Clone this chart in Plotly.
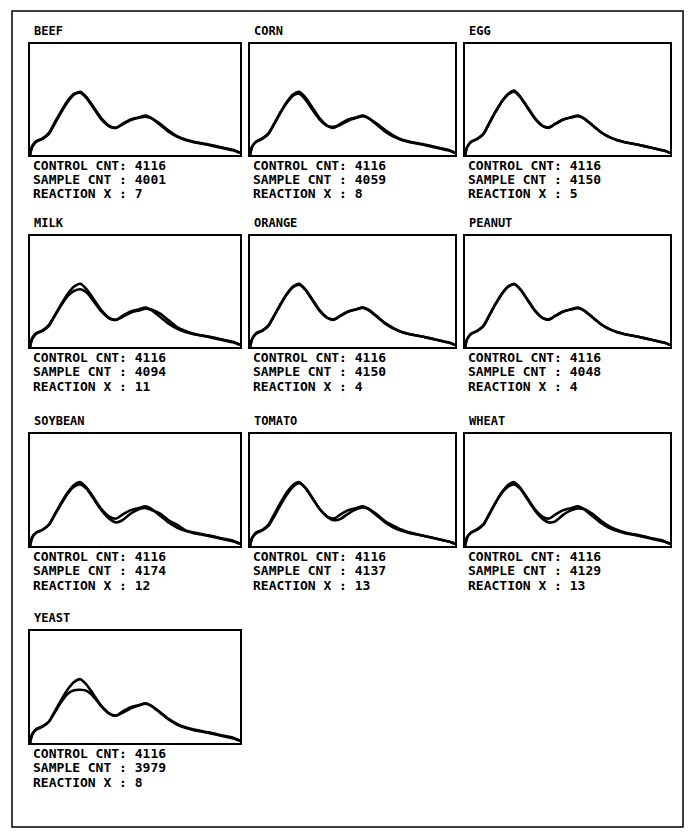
import plotly.graph_objects as go

# page is 696x839 but the HTML body has an 8px margin
OFF = 8
W, H = 696 - OFF, 839 - OFF

# ---------------- data ----------------
names = ["BEEF", "CORN", "EGG", "MILK", "ORANGE", "PEANUT", "SOYBEAN", "TOMATO", "WHEAT", "YEAST"]
control_cnt = [4116] * 10
sample_cnt = [4001, 4059, 4150, 4094, 4150, 4048, 4174, 4137, 4129, 3979]
reaction_pct = [7, 8, 5, 11, 4, 4, 12, 13, 13, 8]

channel = [0, 1, 3, 6, 9, 12, 15, 18, 21, 24, 27, 30, 34, 38, 41, 44, 48, 52, 55, 58, 62, 66, 70, 74, 78, 85, 91, 97, 100]

control_curve = [0.00, 0.07, 0.12, 0.145, 0.19, 0.29, 0.39, 0.48, 0.545, 0.57, 0.52, 0.44, 0.33, 0.26, 0.245, 0.28, 0.32, 0.34, 0.355, 0.33, 0.27, 0.21, 0.165, 0.135, 0.115, 0.09, 0.065, 0.04, 0.02]

sample_beef = [0.00, 0.08, 0.125, 0.15, 0.20, 0.30, 0.40, 0.49, 0.55, 0.56, 0.51, 0.43, 0.32, 0.255, 0.245, 0.275, 0.315, 0.335, 0.345, 0.33, 0.28, 0.22, 0.17, 0.14, 0.12, 0.095, 0.07, 0.045, 0.02]
sample_corn = [0.00, 0.075, 0.12, 0.15, 0.195, 0.285, 0.385, 0.47, 0.535, 0.555, 0.50, 0.42, 0.32, 0.26, 0.255, 0.27, 0.31, 0.335, 0.35, 0.33, 0.28, 0.225, 0.175, 0.14, 0.12, 0.095, 0.07, 0.045, 0.02]
sample_egg = [0.00, 0.07, 0.12, 0.145, 0.19, 0.295, 0.395, 0.485, 0.55, 0.58, 0.525, 0.445, 0.335, 0.26, 0.25, 0.28, 0.32, 0.34, 0.35, 0.33, 0.27, 0.21, 0.165, 0.135, 0.115, 0.09, 0.065, 0.04, 0.02]
sample_milk = [0.00, 0.08, 0.125, 0.15, 0.20, 0.29, 0.38, 0.46, 0.505, 0.52, 0.49, 0.42, 0.32, 0.255, 0.245, 0.27, 0.31, 0.33, 0.345, 0.335, 0.30, 0.24, 0.18, 0.145, 0.12, 0.095, 0.07, 0.045, 0.02]
sample_orange = [0.00, 0.07, 0.125, 0.15, 0.195, 0.29, 0.385, 0.475, 0.54, 0.56, 0.515, 0.435, 0.325, 0.26, 0.25, 0.28, 0.32, 0.34, 0.355, 0.335, 0.275, 0.215, 0.17, 0.135, 0.115, 0.09, 0.065, 0.04, 0.02]
sample_peanut = [0.00, 0.07, 0.12, 0.145, 0.19, 0.29, 0.39, 0.48, 0.54, 0.565, 0.52, 0.44, 0.33, 0.26, 0.25, 0.28, 0.32, 0.34, 0.35, 0.33, 0.27, 0.21, 0.165, 0.135, 0.115, 0.09, 0.065, 0.04, 0.02]
sample_soybean = [0.00, 0.08, 0.12, 0.145, 0.19, 0.285, 0.38, 0.47, 0.53, 0.55, 0.51, 0.43, 0.32, 0.24, 0.21, 0.23, 0.29, 0.33, 0.34, 0.32, 0.29, 0.23, 0.19, 0.14, 0.12, 0.095, 0.07, 0.045, 0.02]
sample_tomato = [0.00, 0.07, 0.115, 0.14, 0.18, 0.27, 0.37, 0.46, 0.53, 0.56, 0.52, 0.44, 0.33, 0.255, 0.23, 0.24, 0.29, 0.33, 0.345, 0.33, 0.28, 0.22, 0.18, 0.145, 0.12, 0.09, 0.065, 0.04, 0.02]
sample_wheat = [0.00, 0.08, 0.12, 0.15, 0.195, 0.29, 0.39, 0.475, 0.53, 0.55, 0.51, 0.43, 0.32, 0.24, 0.21, 0.22, 0.28, 0.32, 0.335, 0.33, 0.29, 0.23, 0.18, 0.145, 0.12, 0.095, 0.07, 0.045, 0.02]
sample_yeast = [0.00, 0.08, 0.125, 0.15, 0.19, 0.28, 0.37, 0.44, 0.47, 0.475, 0.465, 0.42, 0.33, 0.26, 0.245, 0.27, 0.31, 0.335, 0.35, 0.33, 0.275, 0.215, 0.17, 0.14, 0.12, 0.095, 0.07, 0.045, 0.02]

sample_curves = [sample_beef, sample_corn, sample_egg, sample_milk, sample_orange,
                 sample_peanut, sample_soybean, sample_tomato, sample_wheat, sample_yeast]

# ---------------- layout (page pixels) ----------------
col_left = [30, 250, 465]
col_right = [240, 455, 670]
row_top = [44, 236, 434, 631]
row_bottom = [155, 347, 546, 743]

FONT = "DejaVu Sans Mono"


def px(xp):
    return (xp - OFF) / W


def py(yp):
    return 1 - (yp - OFF) / H


fig = go.Figure()
layout = dict(
    width=W, height=H,
    margin=dict(l=0, r=0, t=0, b=0),
    paper_bgcolor="white", plot_bgcolor="white",
    showlegend=False,
)
annotations = []
shapes = []

for i, name in enumerate(names):
    r, c = divmod(i, 3)
    l, rr = col_left[c], col_right[c]
    t, b = row_top[r], row_bottom[r]
    k = i + 1
    xa = "x" if k == 1 else f"x{k}"
    ya = "y" if k == 1 else f"y{k}"
    axis_common = dict(showline=True, mirror=True, linewidth=2, linecolor="black",
                       showticklabels=False, ticks="", showgrid=False, zeroline=False,
                       fixedrange=True)
    layout["xaxis" if k == 1 else f"xaxis{k}"] = dict(
        domain=[px(l), px(rr)], range=[0, 100], anchor=ya, **axis_common)
    layout["yaxis" if k == 1 else f"yaxis{k}"] = dict(
        domain=[py(b), py(t)], range=[0, 1], anchor=xa, **axis_common)

    fig.add_trace(go.Scatter(x=channel, y=control_curve, mode="lines",
                             line=dict(color="black", width=2.6, shape="spline", smoothing=0.6),
                             xaxis=xa, yaxis=ya, hoverinfo="skip"))
    fig.add_trace(go.Scatter(x=channel, y=sample_curves[i], mode="lines",
                             line=dict(color="black", width=2.6, shape="spline", smoothing=0.6),
                             xaxis=xa, yaxis=ya, hoverinfo="skip"))

    annotations.append(dict(text=f"<b>{name}</b>", x=px(l + 2), y=py(t - 13),
                            xref="paper", yref="paper", xanchor="left", yanchor="middle",
                            showarrow=False, font=dict(family=FONT, size=12, color="black")))
    lines = [f"CONTROL CNT: {control_cnt[i]}",
             f"SAMPLE CNT : {sample_cnt[i]}",
             f"REACTION X : {reaction_pct[i]}"]
    for j, txt in enumerate(lines):
        annotations.append(dict(text=f"<b>{txt}</b>", x=px(l + 1), y=py(b + 10 + 14.5 * j),
                                xref="paper", yref="paper", xanchor="left", yanchor="middle",
                                showarrow=False, font=dict(family=FONT, size=13, color="black")))

# outer page frame
shapes.append(dict(type="rect", xref="paper", yref="paper",
                   x0=px(12), x1=px(683), y0=py(827), y1=py(11),
                   line=dict(color="black", width=1.5), fillcolor="rgba(0,0,0,0)"))

layout["annotations"] = annotations
layout["shapes"] = shapes
fig.update_layout(**layout)
fig.write_html("out.html")
